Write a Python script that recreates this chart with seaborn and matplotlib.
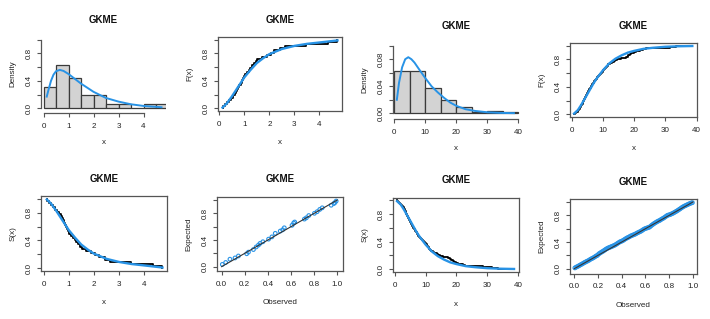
import numpy as np
import matplotlib
matplotlib.use("Agg")
import matplotlib.pyplot as plt
import seaborn as sns

# ---------------- data ----------------
title_text = "GKME"

# data set 1 (n = 32)
data1 = [0.13, 0.22, 0.30, 0.38, 0.47, 0.55, 0.62, 0.68, 0.72, 0.76, 0.80, 0.85,
         0.90, 0.94, 0.98, 1.03, 1.10, 1.18, 1.23, 1.30, 1.38, 1.45, 1.52, 1.70,
         1.90, 2.05, 2.20, 2.42, 2.62, 3.46, 4.35, 4.72]
breaks1 = [0, 0.5, 1, 1.5, 2, 2.5, 3, 3.5, 4, 4.5, 5]
dens1_x = [0.13, 0.2, 0.3, 0.4, 0.5, 0.65, 0.8, 1.0, 1.25, 1.5, 1.75, 2.0, 2.5, 3.0, 3.5, 4.0, 4.72]
dens1_y = [0.17, 0.27, 0.40, 0.49, 0.54, 0.56, 0.545, 0.50, 0.43, 0.36, 0.30, 0.24, 0.15, 0.097, 0.058, 0.034, 0.015]
cdf1_x = [0.13, 0.3, 0.5, 0.75, 1.0, 1.25, 1.5, 1.75, 2.0, 2.5, 3.0, 3.5, 4.0, 4.72]
cdf1_y = [0.01, 0.07, 0.17, 0.31, 0.45, 0.56, 0.66, 0.73, 0.79, 0.865, 0.91, 0.94, 0.96, 0.99]
pp1_obs = [0.006, 0.035, 0.072, 0.116, 0.145, 0.217, 0.232, 0.275, 0.299, 0.319, 0.333,
           0.357, 0.406, 0.435, 0.464, 0.507, 0.528, 0.542, 0.609, 0.623, 0.632, 0.716,
           0.733, 0.754, 0.803, 0.826, 0.849, 0.870, 0.948, 0.971, 0.980, 0.991]
pp1_exp = [0.034, 0.063, 0.112, 0.131, 0.160, 0.194, 0.218, 0.257, 0.296, 0.325, 0.350,
           0.374, 0.413, 0.447, 0.500, 0.534, 0.553, 0.583, 0.621, 0.655, 0.670, 0.714,
           0.733, 0.767, 0.801, 0.825, 0.859, 0.883, 0.922, 0.947, 0.961, 0.985]

# data set 2 (n = 100)
data2 = [0.8, 1.2, 1.5, 1.7, 1.9, 2.1, 2.3, 2.4, 2.6, 2.7, 2.9, 3.0, 3.1, 3.3, 3.4,
         3.5, 3.6, 3.7, 3.8, 3.9, 4.0, 4.1, 4.2, 4.3, 4.4, 4.5, 4.6, 4.7, 4.8, 4.9, 4.95,
         5.1, 5.2, 5.3, 5.5, 5.6, 5.7, 5.8, 6.0, 6.1, 6.2, 6.4, 6.5, 6.6, 6.8, 6.9,
         7.1, 7.2, 7.4, 7.5, 7.7, 7.9, 8.0, 8.2, 8.4, 8.6, 8.8, 9.0, 9.2, 9.4, 9.6, 9.8,
         10.1, 10.2, 10.4, 10.5, 10.7, 10.9, 11.0, 11.2, 11.4, 11.6, 11.8, 12.1, 12.4,
         12.8, 13.2, 13.6, 14.0, 14.4, 14.8,
         15.8, 17.4, 17.6, 17.9, 18.2, 18.5, 18.8, 19.1, 19.4, 19.8,
         20.5, 21.2, 22.0, 22.8, 23.9, 28.5, 31.5, 33.5, 38.6]
breaks2 = [0, 5, 10, 15, 20, 25, 30, 35, 40]
dens2_x = [0.8, 1.5, 2.5, 3.5, 4.5, 5.5, 6.5, 8, 10, 12, 14, 16, 18, 20, 23, 26, 30, 34, 38.6]
dens2_y = [0.020, 0.045, 0.068, 0.080, 0.083, 0.080, 0.075, 0.065, 0.052, 0.040, 0.031,
           0.023, 0.016, 0.011, 0.006, 0.0035, 0.0015, 0.0006, 0.0002]
cdf2_x = [0.8, 2, 3, 4, 5, 6, 7, 8, 10, 12, 14, 16, 18, 20, 23, 26, 30, 34, 38.6]
cdf2_y = [0.01, 0.06, 0.13, 0.21, 0.29, 0.37, 0.45, 0.52, 0.64, 0.74, 0.81, 0.86, 0.90,
          0.925, 0.955, 0.97, 0.985, 0.992, 0.996]
pp2_obs = [0.005, 0.015, 0.025, 0.035, 0.045, 0.055, 0.065, 0.075, 0.085, 0.095,
           0.105, 0.115, 0.125, 0.135, 0.145, 0.155, 0.165, 0.175, 0.185, 0.195,
           0.205, 0.215, 0.225, 0.235, 0.245, 0.255, 0.265, 0.275, 0.285, 0.295,
           0.305, 0.315, 0.325, 0.335, 0.345, 0.355, 0.365, 0.375, 0.385, 0.395,
           0.405, 0.415, 0.425, 0.435, 0.445, 0.455, 0.465, 0.475, 0.485, 0.495,
           0.505, 0.515, 0.525, 0.535, 0.545, 0.555, 0.565, 0.575, 0.585, 0.595,
           0.605, 0.615, 0.625, 0.635, 0.645, 0.655, 0.665, 0.675, 0.685, 0.695,
           0.705, 0.715, 0.725, 0.735, 0.745, 0.755, 0.765, 0.775, 0.785, 0.795,
           0.805, 0.815, 0.825, 0.835, 0.845, 0.855, 0.865, 0.875, 0.885, 0.895,
           0.905, 0.915, 0.925, 0.935, 0.945, 0.955, 0.965, 0.975, 0.985, 0.995]
pp2_exp = [0.012, 0.022, 0.031, 0.040, 0.050, 0.061, 0.070, 0.080, 0.092, 0.100,
           0.110, 0.118, 0.128, 0.140, 0.150, 0.158, 0.168, 0.180, 0.192, 0.200,
           0.220, 0.232, 0.243, 0.255, 0.265, 0.278, 0.290, 0.302, 0.310, 0.318,
           0.325, 0.333, 0.340, 0.348, 0.357, 0.368, 0.380, 0.392, 0.403, 0.410,
           0.418, 0.428, 0.440, 0.452, 0.462, 0.470, 0.480, 0.490, 0.498, 0.505,
           0.512, 0.520, 0.530, 0.540, 0.548, 0.556, 0.566, 0.578, 0.590, 0.600,
           0.606, 0.612, 0.618, 0.625, 0.640, 0.655, 0.668, 0.680, 0.692, 0.702,
           0.712, 0.720, 0.730, 0.742, 0.752, 0.762, 0.775, 0.788, 0.800, 0.806,
           0.810, 0.818, 0.826, 0.835, 0.845, 0.856, 0.866, 0.878, 0.890, 0.902,
           0.915, 0.926, 0.936, 0.945, 0.953, 0.962, 0.970, 0.978, 0.985, 0.990]
ref_line = [0, 1]

# ticks / labels
x1_ticks = [0, 1, 2, 3, 4]
x1_labels = ["0", "1", "2", "3", "4"]
x2_ticks = [0, 10, 20, 30, 40]
x2_labels = ["0", "10", "20", "30", "40"]
p_ticks = [0, 0.2, 0.4, 0.6, 0.8, 1.0]
p_labels_sparse = ["0.0", "", "0.4", "", "0.8", ""]
p_labels_full = ["0.0", "0.2", "0.4", "0.6", "0.8", "1.0"]
d2_ticks = [0, 0.02, 0.04, 0.06, 0.08, 0.10]
d2_labels = ["0.00", "", "0.04", "", "0.08", ""]

# ---------------- style ----------------
BLUE = "#2893E6"
FRAME = "#555555"
TXT = "#222222"
FS = 5.8
plt.rcParams["font.family"] = ["Liberation Sans", "DejaVu Sans"]
plt.rcParams["font.size"] = FS

W, H = 710, 319
fig = plt.figure(figsize=(W / 100, H / 100), dpi=100)


def make_ax(x0, x1, y0, y1):
    ax = fig.add_axes([x0 / W, 1 - y1 / H, (x1 - x0) / W, (y1 - y0) / H])
    return ax, x1 - x0, y1 - y0


def style(ax, wpx, hpx, xlim, ylim, xt, xtl, yt, ytl, xlabel, ylabel, boxed=True):
    ax.set_xlim(*xlim)
    ax.set_ylim(*ylim)
    ax.set_xticks(xt, xtl)
    ax.set_yticks(yt, ytl)
    ax.tick_params(length=2.9, width=0.8, color=FRAME, labelsize=FS,
                   labelcolor=TXT, direction="out")
    ax.tick_params(axis="x", pad=4.0)
    ax.tick_params(axis="y", pad=2.8, labelrotation=90)
    for lb in ax.get_yticklabels():
        lb.set_va("center")
    ax.set_xlabel(xlabel, fontsize=FS, color=TXT)
    ax.set_ylabel(ylabel, fontsize=FS, color=TXT)
    ax.xaxis.set_label_coords(0.5, -32 / hpx)
    ax.xaxis.label.set_va("center")
    ax.yaxis.set_label_coords(-28 / wpx, 0.5)
    ax.yaxis.label.set_va("center")
    ax.set_title(title_text, y=1 + 17.3 / hpx, pad=0, va="center",
                 fontweight="bold", fontsize=7.0, color="#111111")
    ax.set_facecolor("white")
    for s in ax.spines.values():
        s.set_color(FRAME)
        s.set_linewidth(0.9)
    if not boxed:
        ax.spines["top"].set_visible(False)
        ax.spines["right"].set_visible(False)
        ax.spines["left"].set_bounds(yt[0], yt[-1])
        ax.spines["bottom"].set_bounds(xt[0], xt[-1])
        ax.spines["bottom"].set_position(("outward", 1.5))


# Panel 1: histogram, data set 1
ax, w, h = make_ax(41, 166, 37, 111)
sns.histplot(x=data1, bins=breaks1, stat="density", ax=ax, color="#D3D3D3",
             edgecolor="#3a3a3a", linewidth=0.9, alpha=1)
sns.lineplot(x=dens1_x, y=dens1_y, ax=ax, color=BLUE, lw=1.4)
style(ax, w, h, (-0.1, 4.9), (-0.04, 1.04), x1_ticks, x1_labels, p_ticks,
      p_labels_sparse, "x", "Density", boxed=False)

# Panel 2: CDF, data set 1
ax, w, h = make_ax(218, 342, 37, 111)
sns.ecdfplot(x=data1, ax=ax, color="black", lw=1.3)
sns.lineplot(x=cdf1_x, y=cdf1_y, ax=ax, color=BLUE, lw=1.7)
style(ax, w, h, (-0.05, 4.9), (-0.04, 1.04), x1_ticks, x1_labels, p_ticks,
      p_labels_sparse, "x", "F(x)")

# Panel 3: histogram, data set 2
ax, w, h = make_ax(392.5, 519.5, 43, 117)
sns.histplot(x=data2, bins=breaks2, stat="density", ax=ax, color="#D3D3D3",
             edgecolor="#3a3a3a", linewidth=0.9, alpha=1)
sns.lineplot(x=dens2_x, y=dens2_y, ax=ax, color=BLUE, lw=1.4)
style(ax, w, h, (-0.6, 40.4), (-0.0055, 0.104), x2_ticks, x2_labels, d2_ticks,
      d2_labels, "x", "Density", boxed=False)

# Panel 4: CDF, data set 2
ax, w, h = make_ax(570, 697, 43, 117)
sns.ecdfplot(x=data2, ax=ax, color="black", lw=1.3)
sns.lineplot(x=cdf2_x, y=cdf2_y, ax=ax, color=BLUE, lw=1.7)
style(ax, w, h, (-0.5, 40.1), (-0.04, 1.04), x2_ticks, x2_labels, p_ticks,
      p_labels_sparse, "x", "F(x)")

# Panel 5: survival, data set 1
ax, w, h = make_ax(41, 167, 196, 271)
sns.ecdfplot(x=data1, ax=ax, color="black", lw=1.3, complementary=True)
sns.lineplot(x=cdf1_x, y=1 - np.array(cdf1_y), ax=ax, color=BLUE, lw=1.7)
style(ax, w, h, (-0.1, 4.9), (-0.04, 1.04), x1_ticks, x1_labels, p_ticks,
      p_labels_sparse, "x", "S(x)")

# Panel 6: PP plot, data set 1
ax, w, h = make_ax(217, 343, 196.7, 271)
sns.lineplot(x=ref_line, y=ref_line, ax=ax, color="#333333", lw=0.8)
sns.scatterplot(x=pp1_obs, y=pp1_exp, ax=ax, s=7, marker="o", fc="none",
                ec=BLUE, linewidth=0.8)
style(ax, w, h, (-0.04, 1.05), (-0.065, 1.05), p_ticks, p_labels_full, p_ticks,
      p_labels_sparse, "Observed", "Expected")

# Panel 7: survival, data set 2
ax, w, h = make_ax(393, 519, 197.7, 272)
sns.ecdfplot(x=data2, ax=ax, color="black", lw=1.3, complementary=True)
sns.lineplot(x=cdf2_x, y=1 - np.array(cdf2_y), ax=ax, color=BLUE, lw=1.7)
style(ax, w, h, (-0.5, 40.2), (-0.04, 1.04), x2_ticks, x2_labels, p_ticks,
      p_labels_sparse, "x", "S(x)")

# Panel 8: PP plot, data set 2
ax, w, h = make_ax(570, 697, 199, 273.7)
sns.lineplot(x=ref_line, y=ref_line, ax=ax, color="#333333", lw=0.8)
sns.scatterplot(x=pp2_obs, y=pp2_exp, ax=ax, s=7, marker="o", fc="none",
                ec=BLUE, linewidth=0.8)
style(ax, w, h, (-0.036, 1.034), (-0.075, 1.045), p_ticks, p_labels_full, p_ticks,
      p_labels_sparse, "Observed", "Expected")

fig.savefig("out.png", dpi=100, facecolor="white")
